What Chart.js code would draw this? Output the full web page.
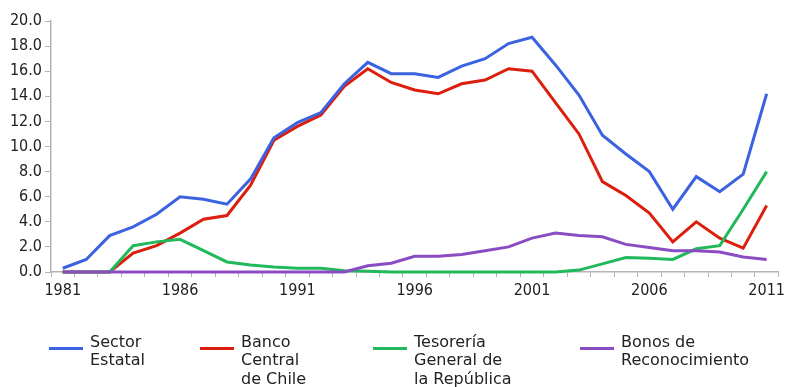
<!DOCTYPE html>
<html lang="es">
<head>
    <meta charset="UTF-8">
    <title>Sector Estatal</title>
    <script src="https://cdn.jsdelivr.net/npm/chart.js"></script>
    <style>
        body {
            margin: 0;
            background: #fff;
            font-family: "DejaVu Sans", sans-serif;
        }
        #wrap {
            position: relative;
            width: 789px;
            height: 387px;
        }
        #legend {
            position: absolute;
            left: 0;
            top: 333px;
            width: 789px;
        }
        .item {
            position: absolute;
            display: flex;
            align-items: flex-start;
        }
        .swatch {
            width: 34px;
            height: 3px;
            margin-top: 13.5px;
        }
        .text {
            margin-left: 7px;
            font-size: 16px;
            line-height: 18.3px;
            color: #222;
        }
    </style>
</head>
<body>
<div id="wrap">
    <canvas id="myChart" width="789" height="387"></canvas>
    <div id="legend"></div>
</div>

<script>
    const years = ['1981', '1982', '1983', '1984', '1985', '1986', '1987', '1988', '1989', '1990',
        '1991', '1992', '1993', '1994', '1995', '1996', '1997', '1998', '1999', '2000',
        '2001', '2002', '2003', '2004', '2005', '2006', '2007', '2008', '2009', '2010', '2011'];
    const shownYears = ['1981', '1986', '1991', '1996', '2001', '2006', '2011'];

    const sectorEstatal = [0.3, 1.0, 2.9, 3.6, 4.6, 6.0, 5.8, 5.4, 7.4, 10.7, 11.9, 12.7, 15.0, 16.7, 15.8,
        15.8, 15.5, 16.4, 17.0, 18.2, 18.7, 16.5, 14.1, 10.9, 9.4, 8.0, 5.0, 7.6, 6.4, 7.8, 14.2];
    const bancoCentral = [0, 0, 0, 1.5, 2.1, 3.1, 4.2, 4.5, 6.9, 10.5, 11.6, 12.5, 14.8, 16.2, 15.1,
        14.5, 14.2, 15.0, 15.3, 16.2, 16.0, 13.5, 11.0, 7.2, 6.1, 4.7, 2.4, 4.0, 2.7, 1.9, 5.3];
    const tesoreria = [0, 0, 0, 2.1, 2.4, 2.6, 1.7, 0.8, 0.55, 0.4, 0.3, 0.3, 0.1, 0.05, 0,
        0, 0, 0, 0, 0, 0, 0, 0.15, 0.65, 1.15, 1.1, 1.0, 1.85, 2.1, 5.0, 8.0];
    const bonos = [0, 0, 0, 0, 0, 0, 0, 0, 0, 0, 0, 0, 0, 0.5, 0.7,
        1.25, 1.25, 1.4, 1.7, 2.0, 2.7, 3.1, 2.9, 2.8, 2.2, 1.95, 1.7, 1.7, 1.6, 1.2, 1.0];

    const seriesNames = [['Sector', 'Estatal'], ['Banco', 'Central', 'de Chile'],
        ['Tesorería', 'General de', 'la República'], ['Bonos de', 'Reconocimiento']];
    const seriesColors = ['#3b62e0', '#dc1e0c', '#22b85c', '#8a4cc2'];
    const legendLeft = [49, 200, 373, 580];

    const axisColor = '#b4b4b4';
    const tickFont = { family: '"DejaVu Sans Condensed", "DejaVu Sans", sans-serif', size: 16 };

    function lineSet(i, values, order) {
        return {
            label: seriesNames[i].join(' '),
            data: values,
            borderColor: seriesColors[i],
            backgroundColor: seriesColors[i],
            borderWidth: 3,
            pointRadius: 0,
            tension: 0,
            clip: false,
            order: order
        };
    }

    const ctx = document.getElementById('myChart').getContext('2d');
    new Chart(ctx, {
        type: 'line',
        data: {
            labels: years,
            datasets: [
                lineSet(0, sectorEstatal, 1),
                lineSet(1, bancoCentral, 3),
                lineSet(2, tesoreria, 2),
                lineSet(3, bonos, 0)
            ]
        },
        options: {
            responsive: false,
            animation: false,
            layout: { padding: { left: 0, right: 1, top: 21, bottom: 85 } },
            plugins: {
                legend: { display: false },
                tooltip: { enabled: false }
            },
            scales: {
                x: {
                    offset: true,
                    grid: {
                        offset: true,
                        drawOnChartArea: false,
                        drawTicks: true,
                        tickLength: 5,
                        color: axisColor
                    },
                    border: { color: axisColor, width: 1.5 },
                    ticks: {
                        autoSkip: false,
                        maxRotation: 0,
                        padding: 4,
                        color: '#222',
                        font: tickFont,
                        callback: function (value) {
                            const y = this.getLabelForValue(value);
                            return shownYears.includes(y) ? y : '';
                        }
                    },
                    afterFit: function (scale) { scale.height = 30; }
                },
                y: {
                    min: 0,
                    max: 20,
                    grid: {
                        drawOnChartArea: false,
                        drawTicks: true,
                        tickLength: 6,
                        color: axisColor
                    },
                    border: { color: axisColor, width: 1.5 },
                    ticks: {
                        stepSize: 2,
                        padding: 3,
                        color: '#222',
                        font: tickFont,
                        callback: function (value) { return value.toFixed(1); }
                    },
                    afterFit: function (scale) { scale.width = 51; }
                }
            }
        }
    });

    // legend below the plot, with the long names broken over several lines
    const legend = document.getElementById('legend');
    seriesNames.forEach(function (lines, i) {
        const item = document.createElement('div');
        item.className = 'item';
        item.style.left = legendLeft[i] + 'px';
        const swatch = document.createElement('div');
        swatch.className = 'swatch';
        swatch.style.background = seriesColors[i];
        const text = document.createElement('div');
        text.className = 'text';
        text.innerHTML = lines.join('<br>');
        item.appendChild(swatch);
        item.appendChild(text);
        legend.appendChild(item);
    });
</script>
</body>
</html>
